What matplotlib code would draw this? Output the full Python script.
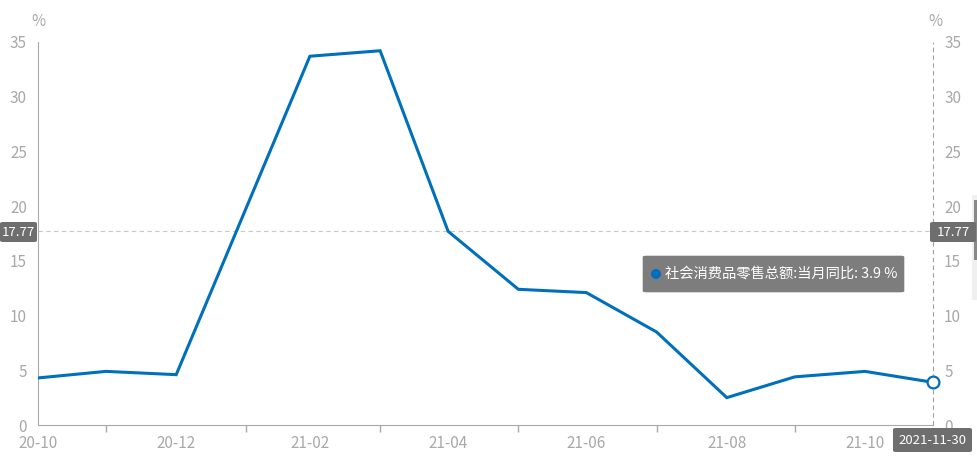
import matplotlib
matplotlib.use("Agg")
import matplotlib.pyplot as plt
import matplotlib.dates as mdates
from matplotlib.patches import FancyBboxPatch, Rectangle, Ellipse

plt.rcParams['font.family'] = ['Noto Sans CJK SC', 'DejaVu Sans']

dates = ['2020-10-31', '2020-11-30', '2020-12-31', '2021-02-28', '2021-03-31',
         '2021-04-30', '2021-05-31', '2021-06-30', '2021-07-31', '2021-08-31',
         '2021-09-30', '2021-10-31', '2021-11-30']
values = [4.3, 4.9, 4.6, 33.7, 34.2, 17.7, 12.4, 12.1, 8.5, 2.5, 4.4, 4.9, 3.9]
label_dates = ['2020-10-31', '2020-12-31', '2021-02-28', '2021-04-30',
               '2021-06-30', '2021-08-31', '2021-10-31']
label_texts = ['20-10', '20-12', '21-02', '21-04', '21-06', '21-08', '21-10']
tick_dates = ['2020-11-30', '2021-01-31', '2021-03-31', '2021-05-31',
              '2021-07-31', '2021-09-30']
y_ticks = [0, 5, 10, 15, 20, 25, 30, 35]
cross_value = 17.77
series_name = '社会消费品零售总额:当月同比'
hover_date = '2021-11-30'

W, H = 978, 469
fig = plt.figure(figsize=(W / 100, H / 100), dpi=100)
x0, x1, ytop, ybot = 38, 933, 42, 425
ax = fig.add_axes([x0 / W, (H - ybot) / H, (x1 - x0) / W, (ybot - ytop) / H])

d = mdates.datestr2num(dates)
ax.plot(d, values, color='#0070BC', lw=2.2, solid_joinstyle='miter', zorder=5)
ax.plot(d[-1], values[-1], 'o', ms=8.5, mfc='white', mec='#0070BC', mew=1.6,
        zorder=6, clip_on=False)

ax.set_xlim(d[0], d[-1])
ax.set_ylim(0, 35)

grey = '#a8a8a8'
for s in ['top', 'right']:
    ax.spines[s].set_visible(False)
ax.spines['left'].set_color(grey)
ax.spines['bottom'].set_color(grey)

ax.set_xticks(mdates.datestr2num(label_dates))
ax.set_xticklabels(label_texts)
ax.tick_params(axis='x', length=0, pad=7, labelsize=11, labelcolor=grey)
ax.set_xticks(mdates.datestr2num(tick_dates), minor=True)
ax.tick_params(axis='x', which='minor', length=5, color=grey, width=1)

ax.set_yticks(y_ticks)
ax.tick_params(axis='y', length=0, pad=8, labelsize=11, labelcolor=grey,
               right=False, labelright=True, labelleft=True)

# crosshair
ax.axhline(cross_value, color='#c8c8c8', lw=0.8, ls=(0, (4, 3)), zorder=1)
ax.axvline(d[-1], color='#a0a0a0', lw=0.8, ls=(0, (4, 3)), zorder=1, clip_on=False)

# unit labels
fig.text(38 / W, 1 - 22 / H, '%', ha='center', va='center', fontsize=11, color=grey)
fig.text(935 / W, 1 - 22 / H, '%', ha='center', va='center', fontsize=11, color=grey)

box_c = '#6e6e6e'

def fig_box(xa, ya, xb, yb, color, text, fs=9.5, r=3):
    p = FancyBboxPatch((xa / W, 1 - yb / H), (xb - xa) / W, (yb - ya) / H,
                       boxstyle=f'round,pad=0,rounding_size={r / W}',
                       transform=fig.transFigure, fc=color, ec='none', zorder=10)
    fig.patches.append(p)
    fig.text((xa + xb) / 2 / W, 1 - (ya + yb) / 2 / H, text, ha='center', va='center',
             fontsize=fs, color='white', zorder=11)

fig_box(0, 222, 37, 242, box_c, f'{cross_value:.2f}')
fig_box(930, 222, 976, 242, box_c, f'{cross_value:.2f}')
fig_box(893, 428, 972, 452, box_c, hover_date)

# tooltip
tip = FancyBboxPatch((642 / W, 1 - 293 / H), (905 - 642) / W, (293 - 255) / H,
                     boxstyle=f'round,pad=0,rounding_size={4 / W}',
                     transform=fig.transFigure, fc='#7d7d7d', ec='#ffffff', lw=1, zorder=10)
fig.patches.append(tip)
fig.patches.append(Ellipse((656 / W, 1 - 274 / H), 10 / W, 10 / H,
                   transform=fig.transFigure, fc='#0070BC', ec='none', zorder=11))
fig.text(665 / W, 1 - 274 / H, f'{series_name}: {values[-1]} %', ha='left', va='center',
         fontsize=10.3, color='white', zorder=11)

# scrollbar strip at right edge
fig.patches.append(Rectangle((972 / W, 1 - 300 / H), 6 / W, 105 / H, transform=fig.transFigure,
                             fc='#f0f0f0', ec='none'))
fig.patches.append(Rectangle((974 / W, 1 - 260 / H), 3 / W, 60 / H, transform=fig.transFigure,
                             fc='#888888', ec='none'))

fig.savefig('out.png', dpi=100)
